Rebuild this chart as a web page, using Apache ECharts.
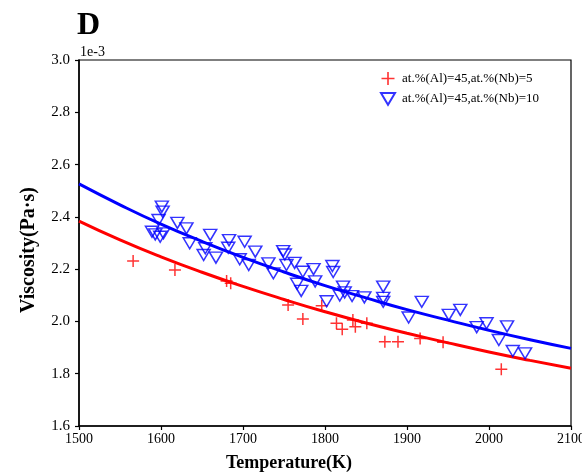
<!DOCTYPE html>
<html>
<head>
<meta charset="utf-8">
<script src="https://cdn.jsdelivr.net/npm/echarts@6/dist/echarts.min.js"></script>
<style>html,body{margin:0;padding:0;background:#fff}#c{width:582px;height:475px}</style>
</head>
<body>
<div id="c"></div>
<script>
// Data (viscosity in units of 1e-3 Pa·s)
var redName = 'at.%(Al)=45,at.%(Nb)=5';
var blueName = 'at.%(Al)=45,at.%(Nb)=10';
var redT = [1566,1617,1680,1685,1755,1773,1796,1814,1821,1834,1837,1851,1873,1889,1916,1944,2015];
var redV = [2.231,2.197,2.155,2.146,2.063,2.009,2.060,1.993,1.970,2.005,1.980,1.993,1.922,1.922,1.935,1.920,1.817];
var blueT = [1601,1602,1597,1589,1593,1599,1603,1620,1631,1635,1654,1652,1660,1667,1683,1682,1702,1696,1715,1707,1731,1737,1749,1751,1753,1763,1773,1766,1771,1786,1788,1809,1810,1802,1822,1824,1818,1833,1848,1871,1871,1871,1902,1918,1951,1965,1985,1997,2012,2022,2029,2044];
var blueV = [2.439,2.420,2.388,2.343,2.333,2.324,2.337,2.377,2.356,2.299,2.280,2.254,2.331,2.244,2.311,2.282,2.305,2.238,2.267,2.216,2.222,2.184,2.269,2.256,2.216,2.224,2.190,2.144,2.117,2.200,2.153,2.212,2.189,2.077,2.133,2.111,2.099,2.097,2.092,2.133,2.090,2.075,2.015,2.075,2.025,2.044,1.978,1.993,1.929,1.981,1.887,1.878];
var fitT = [1500,1550,1600,1650,1700,1750,1800,1850,1900,1950,2000,2050,2100];
var fitRed = [2.384,2.312,2.247,2.188,2.134,2.084,2.037,1.994,1.955,1.918,1.883,1.851,1.821];
var fitBlue = [2.526,2.446,2.372,2.306,2.245,2.189,2.137,2.090,2.045,2.005,1.966,1.930,1.897];
var xTicks = [1500,1600,1700,1800,1900,2000,2100];
var yTicks = [1.6,1.8,2.0,2.2,2.4,2.6,2.8,3.0];

function pairs(a,b){ return a.map(function(v,i){ return [v,b[i]]; }); }

var serif = '"Liberation Serif","DejaVu Serif",serif';
var chart = echarts.init(document.getElementById('c'), null, {renderer:'canvas'});
var crossPath = 'path://M10.5,0H13.5V10.5H24V13.5H13.5V24H10.5V13.5H0V10.5H10.5Z';
var triPath = 'path://M0,0L26,0L13,22Z';

chart.setOption({
  animation: false,
  backgroundColor: '#fff',
  grid: {left: 79, right: 11, top: 60, bottom: 49, containLabel: false, outerBoundsMode: 'none',
         show: true, borderColor: '#000', borderWidth: 1.2, backgroundColor: 'transparent'},
  xAxis: {
    type: 'value', min: xTicks[0], max: xTicks[xTicks.length-1], interval: 100,
    axisLine: {lineStyle: {color: '#000', width: 1.5}},
    axisTick: {inside: false, length: 4, lineStyle: {color: '#000', width: 1.2}},
    axisLabel: {color: '#000', fontFamily: serif, fontSize: 14, margin: 6, formatter: function(v){ return String(v); }},
    splitLine: {show: false}
  },
  yAxis: {
    type: 'value', min: yTicks[0], max: yTicks[yTicks.length-1], interval: 0.2,
    axisLine: {show: true, lineStyle: {color: '#000', width: 1.5}},
    axisTick: {show: true, inside: false, length: 4, lineStyle: {color: '#000', width: 1.2}},
    axisLabel: {color: '#000', fontFamily: serif, fontSize: 15, margin: 9, formatter: function(v){ return v.toFixed(1); }},
    splitLine: {show: false}
  },
  legend: {
    orient: 'vertical', left: 375, top: 67, itemWidth: 14, itemHeight: 13, itemGap: 7,
    data: [redName, blueName],
    textStyle: {fontFamily: serif, fontSize: 13, color: '#000', padding: [0,0,0,2]}
  },
  graphic: [
    {type: 'text', left: 77, top: 10, style: {text: 'D', font: 'bold 32px ' + serif, fill: '#000'}},
    {type: 'text', left: 80, top: 45, style: {text: '1e-3', font: '14px ' + serif, fill: '#000'}},
    {type: 'text', x: 289, y: 463, style: {text: 'Temperature(K)', font: 'bold 18px ' + serif, fill: '#000', align: 'center', verticalAlign: 'middle'}},
    {type: 'text', x: 29, y: 250, rotation: Math.PI/2, style: {text: 'Viscosity(Pa·s)', font: 'bold 20px ' + serif, fill: '#000', align: 'center', verticalAlign: 'middle'}}
  ],
  series: [
    {name: 'fitRed', type: 'line', data: pairs(fitT, fitRed), smooth: true, showSymbol: false, symbol: 'none',
     lineStyle: {color: '#ff0000', width: 3}, z: 3},
    {name: 'fitBlue', type: 'line', data: pairs(fitT, fitBlue), smooth: true, showSymbol: false, symbol: 'none',
     lineStyle: {color: '#0000ff', width: 3}, z: 3},
    {name: redName, type: 'scatter', data: pairs(redT, redV), symbol: crossPath, symbolSize: 12,
     itemStyle: {color: '#ff0000'}, z: 4},
    {name: blueName, type: 'scatter', data: pairs(blueT, blueV), symbol: triPath, symbolSize: [13, 11],
     itemStyle: {color: 'rgba(0,0,0,0)', borderColor: '#0000ff', borderWidth: 1.5}, z: 4}
  ]
});
</script>
</body>
</html>
